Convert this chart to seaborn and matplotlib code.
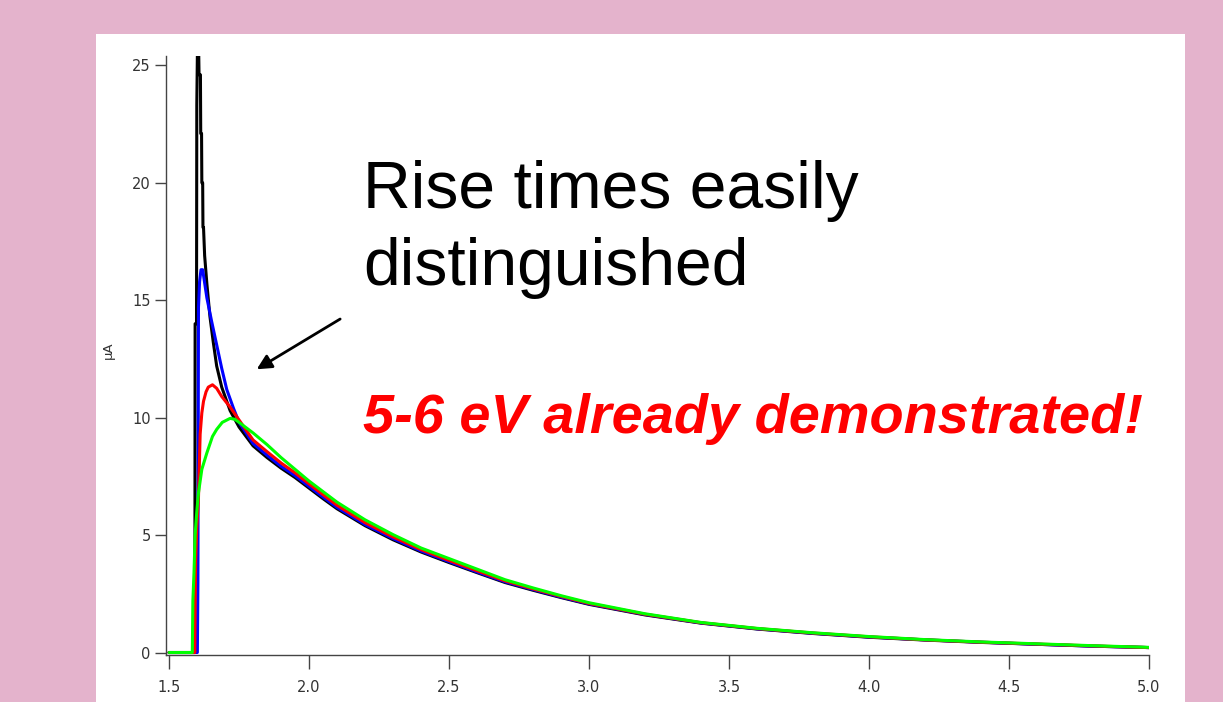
import matplotlib
matplotlib.use("Agg")
import matplotlib.pyplot as plt
import pandas as pd
import seaborn as sns

# ---- pulse traces (current in uA vs time) ----
tail_x = [1.75, 1.80, 1.85, 1.90, 1.95, 2.00, 2.05, 2.10, 2.20, 2.30, 2.40, 2.50,
          2.60, 2.70, 2.80, 2.90, 3.00, 3.20, 3.40, 3.60, 3.80, 4.00, 4.20, 4.40,
          4.60, 4.80, 5.00]

black_x = [1.500, 1.592, 1.593, 1.598, 1.599, 1.601, 1.606, 1.607, 1.612, 1.613,
           1.616, 1.617, 1.620, 1.621, 1.623, 1.627, 1.635, 1.646, 1.658, 1.670,
           1.688, 1.718]
black_y = [0.0, 0.0, 14.0, 14.0, 23.3, 25.4, 25.4, 24.6, 24.6, 22.1,
           22.1, 20.0, 20.0, 18.1, 18.1, 16.9, 15.7, 14.3, 13.2, 12.2,
           11.3, 10.3]
black_tail = [9.60, 8.80, 8.30, 7.85, 7.45, 7.00, 6.55, 6.12, 5.40, 4.80, 4.28, 3.83,
              3.40, 2.98, 2.65, 2.34, 2.05, 1.60, 1.25, 1.00, 0.81, 0.65, 0.53, 0.43,
              0.35, 0.27, 0.21]

blue_x = [1.500, 1.601, 1.603, 1.605, 1.609, 1.614, 1.620, 1.625, 1.635, 1.652,
          1.670, 1.688, 1.706, 1.730]
blue_y = [0.0, 0.0, 3.0, 14.7, 15.8, 16.3, 16.3, 15.9, 15.1, 14.1,
          13.1, 12.1, 11.2, 10.4]
blue_tail = [9.80, 8.90, 8.40, 7.93, 7.53, 7.07, 6.62, 6.18, 5.45, 4.85, 4.32, 3.87,
             3.43, 3.01, 2.68, 2.36, 2.07, 1.62, 1.26, 1.01, 0.82, 0.66, 0.54, 0.44,
             0.35, 0.27, 0.21]

red_x = [1.500, 1.592, 1.593, 1.595, 1.599, 1.605, 1.611, 1.617, 1.623, 1.632,
         1.640, 1.655, 1.670, 1.688, 1.718]
red_y = [0.0, 0.0, 2.0, 3.9, 5.3, 6.6, 9.3, 10.2, 10.7, 11.1,
         11.3, 11.4, 11.25, 10.9, 10.45]
red_tail = [9.90, 9.05, 8.55, 8.07, 7.65, 7.18, 6.72, 6.27, 5.53, 4.92, 4.38, 3.92,
            3.48, 3.05, 2.71, 2.39, 2.09, 1.63, 1.27, 1.02, 0.83, 0.67, 0.54, 0.44,
            0.36, 0.28, 0.21]

green_x = [1.500, 1.583, 1.585, 1.589, 1.593, 1.599, 1.605, 1.611, 1.617, 1.635,
           1.655, 1.670, 1.690, 1.718, 1.735]
green_y = [0.0, 0.0, 2.2, 3.4, 5.0, 6.0, 6.8, 7.3, 7.8, 8.5,
           9.2, 9.5, 9.8, 9.97, 9.93]
green_tail = [9.80, 9.35, 8.85, 8.30, 7.80, 7.30, 6.85, 6.40, 5.65, 5.02, 4.45, 4.00,
              3.55, 3.10, 2.75, 2.42, 2.12, 1.65, 1.28, 1.03, 0.84, 0.68, 0.55, 0.45,
              0.37, 0.29, 0.22]

trace_names = ["black", "blue", "red", "green"]
trace_colors = ["#000000", "#0000FF", "#FF0000", "#00FF00"]

x_ticks = [1.5, 2.0, 2.5, 3.0, 3.5, 4.0, 4.5, 5.0]
x_tick_labels = ["1.5", "2.0", "2.5", "3.0", "3.5", "4.0", "4.5", "5.0"]
y_ticks = [0, 5, 10, 15, 20, 25]
y_tick_labels = ["0", "5", "10", "15", "20", "25"]

title_lines = ["Rise times easily", "distinguished"]
highlight = "5-6 eV already demonstrated!"
y_label = "\u03bcA"

# ---- long-form table for seaborn ----
rows = []
for name, xs, ys, tx, ty in [
    ("black", black_x, black_y, tail_x, black_tail),
    ("blue", blue_x, blue_y, tail_x, blue_tail),
    ("red", red_x, red_y, tail_x, red_tail),
    ("green", green_x, green_y, tail_x, green_tail),
]:
    for xv, yv in zip(list(xs) + list(tx), list(ys) + list(ty)):
        rows.append({"t": xv, "current": yv, "trace": name})
df = pd.DataFrame(rows)

sns.set_style("ticks")
plt.rcParams["font.family"] = ["DejaVu Sans"]

W, H = 1223, 702
fig = plt.figure(figsize=(W / 100, H / 100), dpi=100)
fig.patch.set_facecolor("#E4B3CC")

# white slide panel behind the plot
panel = plt.Rectangle((96 / W, 0), (1185 - 96) / W, (H - 34) / H,
                      transform=fig.transFigure, facecolor="white",
                      edgecolor="none", zorder=-10)
fig.patches.append(panel)

ax = fig.add_axes([166 / W, (H - 655) / H, (1149 - 166) / W, (655 - 56) / H])
ax.set_zorder(1)
ax.set_facecolor("white")

sns.lineplot(data=df, x="t", y="current", hue="trace", hue_order=trace_names,
             palette=dict(zip(trace_names, trace_colors)), sort=False,
             estimator=None, linewidth=2.2, legend=False, ax=ax)

ax.set_xlim(1.489, 5.0)
ax.set_ylim(-0.106, 25.4)
ax.set_xticks(x_ticks)
ax.set_xticklabels(x_tick_labels)
ax.set_yticks(y_ticks)
ax.set_yticklabels(y_tick_labels)
ax.set_xlabel("")
ax.set_ylabel(y_label, fontsize=9.5, color="#333333")
ax.yaxis.set_label_coords(-0.052, 0.509)

for side in ["top", "right"]:
    ax.spines[side].set_visible(False)
for side in ["left", "bottom"]:
    ax.spines[side].set_color("#444444")
    ax.spines[side].set_linewidth(1.0)

ax.tick_params(axis="x", length=10, width=1, pad=8, labelsize=10.5,
               color="#444444", labelcolor="#333333")
ax.tick_params(axis="y", length=8, width=1, pad=3, labelsize=10.5,
               color="#444444", labelcolor="#333333")

# annotation texts
fig.text(363 / W, 1 - 208 / H, title_lines[0], fontsize=47.6, zorder=5,
         family="Liberation Sans", color="black", ha="left", va="baseline")
fig.text(363 / W, 1 - 285 / H, title_lines[1], fontsize=47.6, zorder=5,
         family="Liberation Sans", color="black", ha="left", va="baseline")
fig.text(363 / W, 1 - 433 / H, highlight, fontsize=40.2, weight="bold", zorder=5,
         style="italic", family="Liberation Sans", color="#FF0000",
         ha="left", va="baseline")

ax.annotate("", xy=(1.813, 12.06), xytext=(2.111, 14.2),
            arrowprops=dict(arrowstyle="-|>", color="black", lw=2,
                            mutation_scale=22, shrinkA=0, shrinkB=0))

fig.savefig("out.png", dpi=100, facecolor=fig.get_facecolor())
